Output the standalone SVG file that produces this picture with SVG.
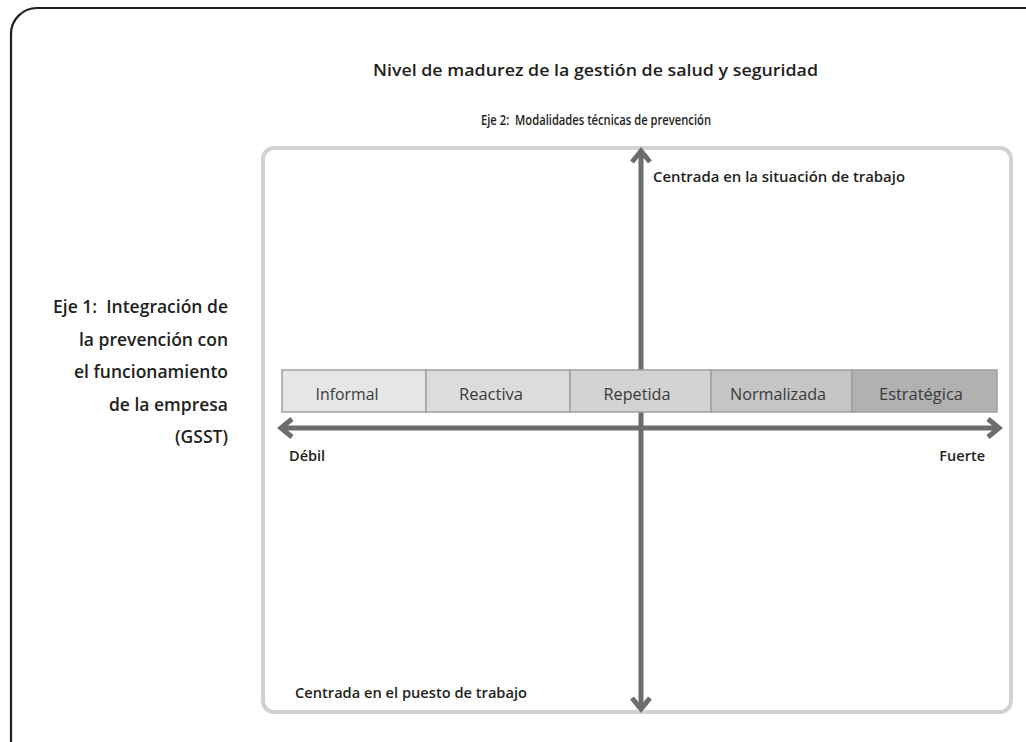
<svg xmlns="http://www.w3.org/2000/svg" width="1026" height="742" viewBox="0 0 1026 742">
<style>
.b{font-family:"Open Sans","Noto Sans",sans-serif;font-weight:600;fill:#231f20}
.r{font-family:"Open Sans","Noto Sans",sans-serif;font-weight:400;fill:#3a3a3a;font-size:16.5px;text-anchor:middle}
.cell{stroke:#a0a0a0;stroke-width:1.5}
.ax{stroke:#6d6d6e;stroke-width:5;fill:none}
</style>
<rect x="11" y="8" width="1040" height="760" rx="26" fill="#fff" stroke="#231f20" stroke-width="2.2"/>
<rect x="263" y="148" width="748" height="564" rx="11" fill="none" stroke="#d2d2d3" stroke-width="4"/>
<text class="b" x="373" y="76" font-size="17" textLength="445" lengthAdjust="spacingAndGlyphs">Nivel de madurez de la gestión de salud y seguridad</text>
<text class="b" x="481" y="125" font-size="13.5" textLength="230" lengthAdjust="spacingAndGlyphs" xml:space="preserve">Eje 2:  Modalidades técnicas de prevención</text>
<g id="axis-left-label">
<text class="b" font-size="17.5" text-anchor="end" xml:space="preserve"><tspan x="228" y="313">Eje 1:  Integración de</tspan><tspan x="228" y="346">la prevención con</tspan><tspan x="228" y="378">el funcionamiento</tspan><tspan x="228" y="411">de la empresa</tspan><tspan x="228" y="443">(GSST)</tspan></text>
</g>
<g id="connectors">
<line class="ax" x1="641" y1="152" x2="641" y2="708"/>
<polyline class="ax" points="632,162 641,151 650,162"/>
<polyline class="ax" points="632,698 641,709 650,698"/>
<line class="ax" x1="282" y1="428" x2="998" y2="428"/>
<polyline class="ax" points="292,419 281,428 292,437"/>
<polyline class="ax" points="988,419 999,428 988,437"/>
</g>
<g id="bar">
<g id="informal"><rect class="cell" x="282" y="370" width="144" height="42" fill="#e6e6e7"/><text class="r" x="347" y="400" textLength="63" lengthAdjust="spacingAndGlyphs">Informal</text></g>
<g id="reactiva"><rect class="cell" x="426" y="370" width="144" height="42" fill="#dcdcdd"/><text class="r" x="491" y="400" textLength="64" lengthAdjust="spacingAndGlyphs">Reactiva</text></g>
<g id="repetida"><rect class="cell" x="570" y="370" width="141" height="42" fill="#d3d3d4"/><text class="r" x="637" y="400" textLength="67" lengthAdjust="spacingAndGlyphs">Repetida</text></g>
<g id="normalizada"><rect class="cell" x="711" y="370" width="141" height="42" fill="#c5c5c6"/><text class="r" x="778" y="400" textLength="96" lengthAdjust="spacingAndGlyphs">Normalizada</text></g>
<g id="estrategica"><rect class="cell" x="852" y="370" width="145" height="42" fill="#b1b1b2"/><text class="r" x="921" y="400" textLength="84" lengthAdjust="spacingAndGlyphs">Estratégica</text></g>
</g>
<text class="b" x="653" y="182" font-size="15" textLength="252" lengthAdjust="spacingAndGlyphs">Centrada en la situación de trabajo</text>
<text class="b" x="295" y="698" font-size="15" textLength="232" lengthAdjust="spacingAndGlyphs">Centrada en el puesto de trabajo</text>
<text class="b" x="289" y="461" font-size="14.5">Débil</text>
<text class="b" x="985" y="461" font-size="14.5" text-anchor="end">Fuerte</text>
</svg>
